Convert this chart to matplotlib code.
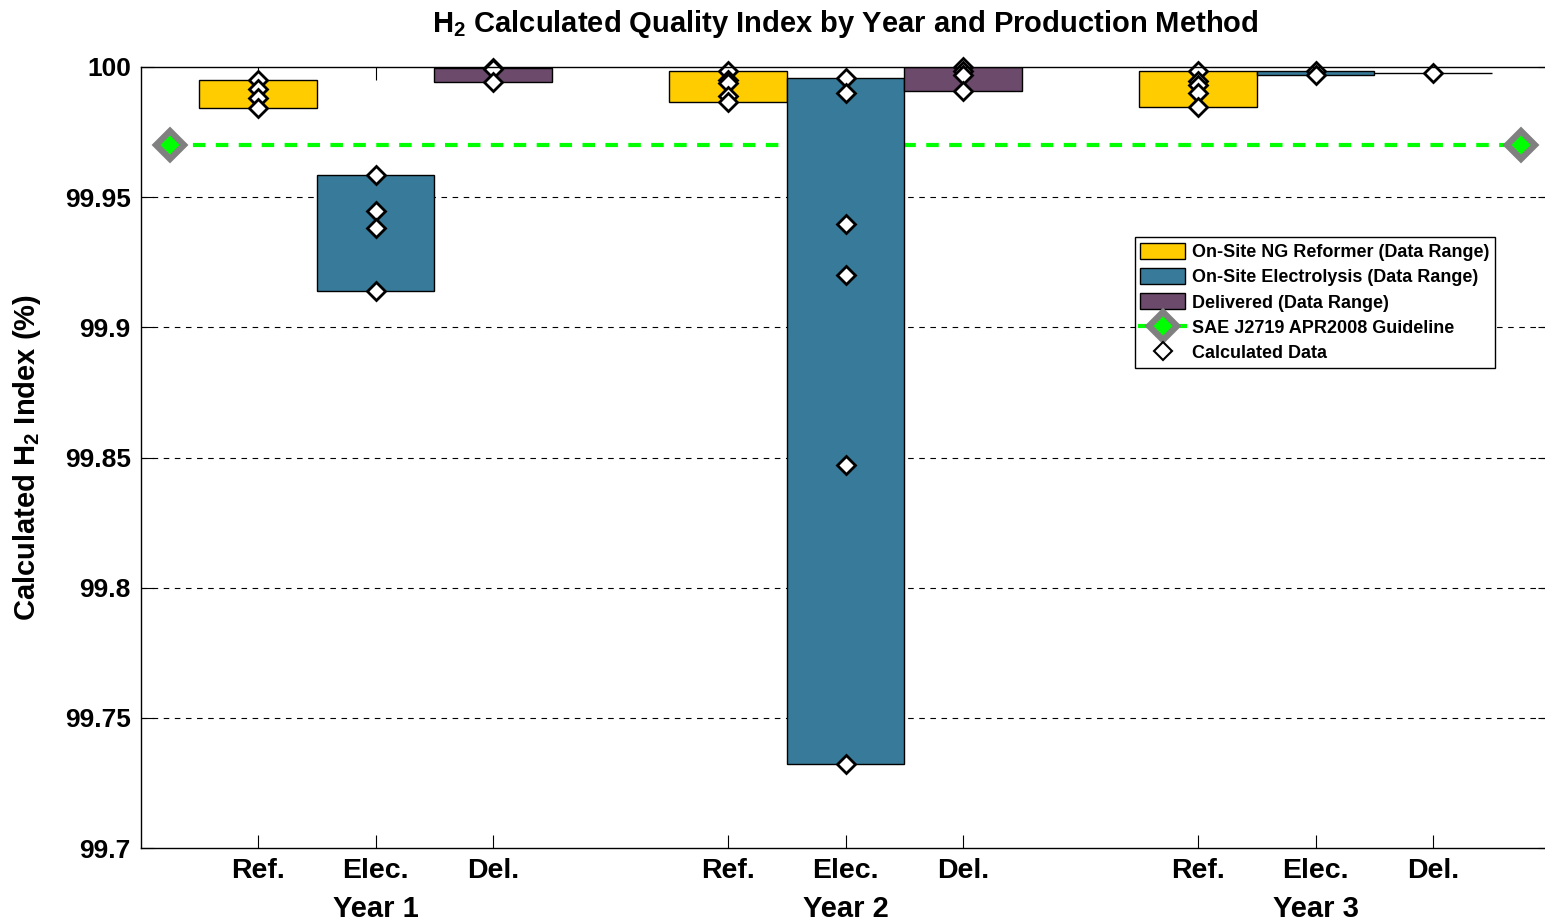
import matplotlib
matplotlib.use("Agg")
import matplotlib.pyplot as plt
from matplotlib.patches import Patch
from matplotlib.lines import Line2D

plt.rcParams['font.family'] = ['Liberation Sans', 'DejaVu Sans']
plt.rcParams['font.weight'] = 'bold'
plt.rcParams['mathtext.fontset'] = 'custom'
plt.rcParams['mathtext.rm'] = 'Liberation Sans:bold'
plt.rcParams['mathtext.it'] = 'Liberation Sans:bold'
plt.rcParams['mathtext.bf'] = 'Liberation Sans:bold'

years = ["Year 1", "Year 2", "Year 3"]
methods = ["Ref.", "Elec.", "Del."]
method_names = ["On-Site NG Reformer (Data Range)",
                "On-Site Electrolysis (Data Range)",
                "Delivered (Data Range)"]
method_colors = ["#FFCC00", "#387A9A", "#6B4A6B"]

# calculated data per year, per method
ref_data = [[99.9950, 99.9915, 99.9880, 99.9841],
            [99.9983, 99.9950, 99.9937, 99.9890, 99.9865],
            [99.9983, 99.9946, 99.9931, 99.9901, 99.9846]]
elec_data = [[99.9585, 99.9448, 99.9383, 99.9139],
             [99.9957, 99.9901, 99.9397, 99.9201, 99.8471, 99.7321],
             [99.9986, 99.9970]]
del_data = [[99.9998, 99.9994, 99.9941],
            [100.0000, 99.9986, 99.9968, 99.9909],
            [99.9978]]
all_data = [ref_data, elec_data, del_data]

guideline = 99.97
guide_x = [0.25, 11.75]
group_centers = [2, 6, 10]
offsets = [-1, 0, 1]
yticks = [99.7, 99.75, 99.8, 99.85, 99.9, 99.95, 100]
ytick_labels = ["99.7", "99.75", "99.8", "99.85", "99.9", "99.95", "100"]

fig = plt.figure(figsize=(15.45, 9.24), dpi=100)
ax = fig.add_axes([140.5 / 1545, 76 / 924, 1410 / 1545, 781 / 924])

# grid
for yv in yticks[1:-1]:
    ax.axhline(yv, color='black', lw=0.8, ls=(0, (5, 5)), zorder=0.5)

# guideline
ax.plot(guide_x, [guideline, guideline], color='#00FF00', lw=3.0,
        dashes=(3, 2.5), zorder=1, marker='D', markersize=14,
        markerfacecolor='#00FF00', markeredgecolor='#808080', markeredgewidth=4.5)

xpos_all, xlab_all = [], []
for mi, (data, col) in enumerate(zip(all_data, method_colors)):
    for yi, vals in enumerate(data):
        x = group_centers[yi] + offsets[mi]
        lo, hi = min(vals), max(vals)
        ax.bar(x, hi - lo, bottom=lo, width=1.0, color=col,
               edgecolor='black', linewidth=1.0, zorder=2)
        ax.plot([x] * len(vals), vals, linestyle='none', marker='D',
                markersize=9, markerfacecolor='white', markeredgecolor='black',
                markeredgewidth=2, zorder=4, clip_on=False)

for yi in range(3):
    for mi in range(3):
        xpos_all.append(group_centers[yi] + offsets[mi])
        xlab_all.append(methods[mi])

ax.set_xlim(0, 12)
ax.set_ylim(99.7, 100)
ax.set_xticks(xpos_all)
ax.set_xticklabels(xlab_all, fontsize=20.5, fontweight='bold')
ax.set_yticks(yticks)
ax.set_yticklabels(ytick_labels, fontsize=19, fontweight='bold')
ax.tick_params(direction='in', length=9.5, width=0.8, top=True, right=True)
ax.tick_params(axis='x', pad=7.5)
ax.tick_params(axis='y', pad=7)
for sp in ax.spines.values():
    sp.set_linewidth(1.0)
    sp.set_zorder(5)

for yi, yl in enumerate(years):
    ax.text(group_centers[yi], -0.078, yl, transform=ax.get_xaxis_transform(),
            ha='center', va='center', fontsize=21, fontweight='bold')

ax.set_title("H$_2$ Calculated Quality Index by Year and Production Method",
             fontsize=21, fontweight='bold', pad=25)
ax.set_ylabel("Calculated H$_2$ Index (%)", fontsize=21, fontweight='bold')
ax.yaxis.set_label_coords(-0.069, 0.5)

handles = [Patch(facecolor=c, edgecolor='black', linewidth=1.0) for c in method_colors]
handles.append(Line2D([], [], color='#00FF00', lw=3.0, marker='D', markersize=14,
                      markerfacecolor='#00FF00', markeredgecolor='#808080',
                      markeredgewidth=4.5))
handles.append(Line2D([], [], linestyle='none', marker='D', markersize=9,
                      markerfacecolor='white', markeredgecolor='black',
                      markeredgewidth=1.5))
labels = method_names + ["SAE J2719 APR2008 Guideline", "Calculated Data"]
leg = ax.legend(handles, labels, loc='upper left', bbox_to_anchor=(0.705, 0.782),
                borderaxespad=0, fancybox=False, edgecolor='black', framealpha=1,
                prop={'size': 13, 'weight': 'bold'}, handlelength=2.5,
                handleheight=1.0, handletextpad=0.4, labelspacing=0.39,
                borderpad=0.3)
leg.get_frame().set_linewidth(1.0)
leg.set_zorder(6)

fig.savefig("out.png", dpi=100)
